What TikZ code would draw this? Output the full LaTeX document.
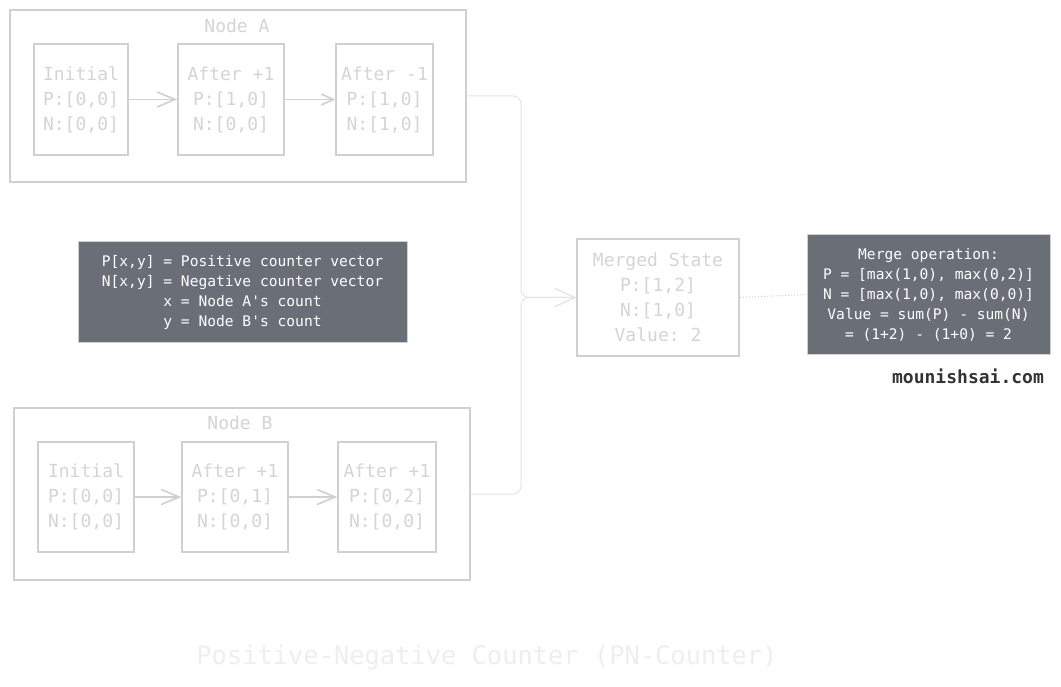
\documentclass[tikz,border=0pt]{standalone}
\usepackage{fontspec}
\setmonofont{DejaVu Sans Mono}
\usetikzlibrary{arrows.meta}
\definecolor{boxgray}{RGB}{208,208,208}
\definecolor{textgray}{RGB}{212,212,212}
\definecolor{linkgray}{RGB}{228,228,228}
\definecolor{darkfill}{RGB}{106,111,119}
\definecolor{titlegray}{RGB}{238,238,238}
\tikzset{
  stage/.style={draw=boxgray, line width=1.6pt, text=textgray, align=center,
    font=\ttfamily\fontsize{18}{25}\selectfont},
  group/.style={draw=boxgray, line width=1.6pt},
  note/.style={draw=boxgray, fill=darkfill, line width=1pt, text=white, align=center,
    font=\ttfamily\fontsize{14.6}{20}\selectfont},
  step arrow/.style={draw=boxgray, line width=1.6pt, -{Straight Barb[length=18pt,width=15pt]}},
  merge link/.style={draw=linkgray, line width=1pt, rounded corners=8pt, -{Straight Barb[length=20pt,width=18pt]}}
}
\begin{document}
\begin{tikzpicture}[x=1pt, y=-1pt]
  \useasboundingbox (0,0) rectangle (1061,687);
  % draw outer group boxes
  \node[group, minimum width=456pt, minimum height=172pt] (nodeA) at (238,96) {};
  \node[text=textgray, font=\ttfamily\fontsize{18}{25}\selectfont] (nodeA_title) at (237,26) {Node A};
  \node[group, minimum width=456pt, minimum height=172pt] (nodeB) at (242,494) {};
  \node[text=textgray, font=\ttfamily\fontsize{18}{25}\selectfont] (nodeB_title) at (240,423) {Node B};
  % node A states
  \node[stage, minimum width=94pt, minimum height=111pt] (nodeA_st0) at (81,99.5) {Initial\\P:[0,0]\\N:[0,0]};
  \node[stage, minimum width=106pt, minimum height=111pt] (nodeA_st1) at (231,99.5) {After +1\\P:[1,0]\\N:[0,0]};
  \node[stage, minimum width=97pt, minimum height=111pt] (nodeA_st2) at (384.5,99.5) {After -1\\P:[1,0]\\N:[1,0]};
  \draw[step arrow] (nodeA_st0) -- (nodeA_st1);
  \draw[step arrow, -{Straight Barb[length=12pt,width=11pt]}] (nodeA_st1) -- (nodeA_st2);
  % node B states
  \node[stage, minimum width=96pt, minimum height=110pt] (nodeB_st0) at (86,497) {Initial\\P:[0,0]\\N:[0,0]};
  \node[stage, minimum width=106pt, minimum height=110pt] (nodeB_st1) at (235,497) {After +1\\P:[0,1]\\N:[0,0]};
  \node[stage, minimum width=98pt, minimum height=110pt] (nodeB_st2) at (387,497) {After +1\\P:[0,2]\\N:[0,0]};
  \draw[step arrow] (nodeB_st0) -- (nodeB_st1);
  \draw[step arrow] (nodeB_st1) -- (nodeB_st2);
  % merged state and notes
  \node[stage, minimum width=162pt, minimum height=117pt] (merged) at (658,297.5) {Merged State\\P:[1,2]\\N:[1,0]\\Value: 2};
  \node[note, minimum width=329pt, minimum height=100pt] (legend) at (242.5,292) {P[x,y] = Positive counter vector\\N[x,y] = Negative counter vector\\x = Node A's count\\y = Node B's count};
  \node[note, minimum width=243pt, minimum height=119pt] (mergeop) at (928.5,294.5) {Merge operation:\\P = [max(1,0), max(0,2)]\\N = [max(1,0), max(0,0)]\\Value = sum(P) - sum(N)\\= (1+2) - (1+0) = 2};
  \coordinate (join) at (521,297.5);
  \draw[merge link] (nodeA.east) -| (join) -- (merged.west);
  \draw[merge link] (nodeB.east) -| (join) -- (merged.west);
  \draw[draw=boxgray, line width=1pt, dotted] (merged.east) -- (mergeop.west);
  % labels
  \node[text=black!80, font=\ttfamily\bfseries\fontsize{18}{20}\selectfont] (site) at (968,376) {mounishsai.com};
  \node[text=titlegray, font=\ttfamily\fontsize{25.4}{30}\selectfont] (title) at (487,658) {Positive-Negative Counter (PN-Counter)};
\end{tikzpicture}
\end{document}
